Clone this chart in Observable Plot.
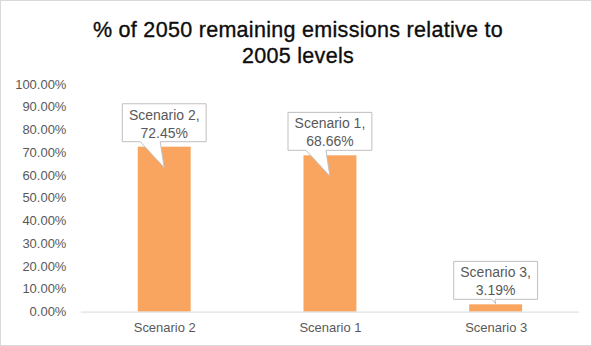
<!DOCTYPE html>
<html>
<head>
<meta charset="utf-8">
<script src="https://cdn.jsdelivr.net/npm/d3@7"></script>
<script src="https://cdn.jsdelivr.net/npm/@observablehq/plot@0.6"></script>
<style>
  html, body { margin: 0; padding: 0; background: #fff; }
  #frame { position: relative; width: 592px; height: 346px; box-sizing: border-box; border: 1px solid #d9d9d9; overflow: hidden; background: #fff; font-family: "Liberation Sans", Arial, sans-serif; }
  #title { position: absolute; left: 0; top: 16px; width: 594px; text-align: center; font-size: 21.5px; line-height: 26px; color: #0d0d0d; letter-spacing: 0.3px; -webkit-text-stroke: 0.35px #0d0d0d; }
  #chart { position: absolute; left: -1px; top: 69px; }
</style>
</head>
<body>
<div id="frame">
  <div id="title">% of 2050 remaining emissions relative to<br>2005 levels</div>
  <div id="chart"></div>
</div>
<script>
const scenarios = ["Scenario 2", "Scenario 1", "Scenario 3"];
const values = [0.7245, 0.6866, 0.0319];
const yTicks = [0, 0.1, 0.2, 0.3, 0.4, 0.5, 0.6, 0.7, 0.8, 0.9, 1.0];

const data = scenarios.map((s, i) => ({scenario: s, value: values[i]}));
const pct = d3.format(".2%");

function callouts(index, scales) {
  const x = scales.x, y = scales.y;
  const g = d3.create("svg:g");
  const y0 = y(0);
  for (const d of data) {
    const cx = x(d.scenario) + x.bandwidth() / 2;
    const top = y(d.value);
    const bottom = top - 5;
    const bh = 38, bw = 84;
    const left = cx - bw / 2, right = cx + bw / 2, btop = bottom - bh;
    const L = Math.min(26, Math.max(4, y0 - bottom - 8));
    const k = L / 26;
    const path = `M${left},${btop}H${right}V${bottom}H${cx - 4 * k}L${cx},${bottom + L}L${cx - 24 * k},${bottom}H${left}Z`;
    g.append("path").attr("d", path).attr("fill", "#fff").attr("stroke", "#bfbfbf").attr("stroke-width", 1);
    const t = g.append("text").attr("text-anchor", "middle").attr("fill", "#595959")
      .attr("font-size", 14).attr("font-family", "'Liberation Sans', Arial, sans-serif");
    t.append("tspan").attr("x", cx).attr("y", btop + 16).text(d.scenario + ",");
    t.append("tspan").attr("x", cx).attr("y", btop + 34).text(pct(d.value));
  }
  return g.node();
}

const plot = Plot.plot({
  width: 592,
  height: 272,
  marginTop: 14,
  marginBottom: 30,
  marginLeft: 81,
  marginRight: 12,
  style: {fontFamily: "'Liberation Sans', Arial, sans-serif", fontSize: "13px", color: "#595959", background: "transparent"},
  x: {domain: scenarios, paddingInner: 0.68, paddingOuter: 0.34, label: null, tickSize: 0, tickPadding: 11},
  y: {domain: [0, 1], ticks: yTicks, tickFormat: pct, label: null, tickSize: 0, tickPadding: 15},
  marks: [
    Plot.barY(data, {x: "scenario", y: "value", fill: "#f9a45f"}),
    Plot.ruleY([0], {stroke: "#d9d9d9", strokeWidth: 1}),
    callouts
  ]
});
document.getElementById("chart").appendChild(plot);
</script>
</body>
</html>
